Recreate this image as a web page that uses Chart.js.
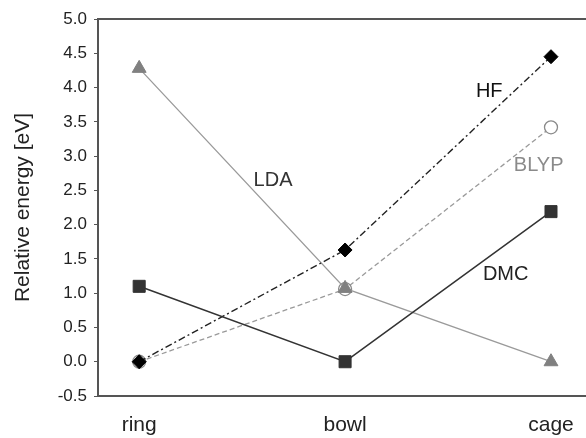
<!DOCTYPE html>
<html>
<head>
<meta charset="utf-8">
<script src="https://cdn.jsdelivr.net/npm/chart.js@4.4.0/dist/chart.umd.min.js"></script>
<style>
  html, body { margin: 0; padding: 0; background: #fff; }
  #wrap { width: 586px; height: 438px; overflow: hidden; }
</style>
</head>
<body>
<div id="wrap"><canvas id="chart" width="586" height="438"></canvas></div>
<script>
// structures along the x axis
const categories = ["ring", "bowl", "cage"];
const yTicks = [-0.5, 0.0, 0.5, 1.0, 1.5, 2.0, 2.5, 3.0, 3.5, 4.0, 4.5, 5.0];

// relative energies [eV], one value per category
const hfValues = [0.0, 1.63, 4.45];
const blypValues = [0.0, 1.06, 3.42];
const ldaValues = [4.28, 1.07, 0.0];
const dmcValues = [1.1, 0.0, 2.19];

const toPoints = (vals) => vals.map((v, i) => ({ x: i, y: v }));

const FONT = '"Liberation Sans", Arial, sans-serif';

// line labels drawn inside the plot, placed in data units
const lineLabels = [
    { text: "LDA", x: 0.65, y: 2.65, color: "#333" },
    { text: "HF", x: 1.70, y: 3.94, color: "#111" },
    { text: "BLYP", x: 1.94, y: 2.86, color: "#8a8a8a" },
    { text: "DMC", x: 1.78, y: 1.28, color: "#222" },
];

const labelPlugin = {
    id: 'lineLabels',
    afterDatasetsDraw(chart) {
        const { ctx, scales: { x, y }, chartArea } = chart;
        ctx.save();
        ctx.font = '20px ' + FONT;
        ctx.textAlign = 'center';
        ctx.textBaseline = 'middle';
        lineLabels.forEach((l) => {
            ctx.fillStyle = l.color;
            ctx.fillText(l.text, x.getPixelForValue(l.x), y.getPixelForValue(l.y));
        });
        // top frame line
        ctx.strokeStyle = '#555';
        ctx.lineWidth = 2;
        ctx.beginPath();
        ctx.moveTo(chartArea.left, chartArea.top);
        ctx.lineTo(chartArea.right, chartArea.top);
        ctx.stroke();
        ctx.restore();
    }
};

new Chart(document.getElementById('chart').getContext('2d'), {
    type: 'line',
    data: {
        datasets: [
            {
                label: 'BLYP',
                data: toPoints(blypValues),
                borderColor: '#9a9a9a',
                borderWidth: 1.3,
                borderDash: [5, 3],
                pointStyle: 'circle',
                pointRadius: 6.5,
                pointBackgroundColor: '#fff',
                pointBorderColor: '#8a8a8a',
                pointBorderWidth: 1.3,
                order: 4,
            },
            {
                label: 'LDA',
                data: toPoints(ldaValues),
                borderColor: '#9a9a9a',
                borderWidth: 1.3,
                pointStyle: 'triangle',
                pointRadius: 8,
                pointBackgroundColor: '#808080',
                pointBorderColor: '#808080',
                pointBorderWidth: 1,
                order: 3,
            },
            {
                label: 'HF',
                data: toPoints(hfValues),
                borderColor: '#222',
                borderWidth: 1.4,
                borderDash: [7, 3, 2, 3],
                pointStyle: 'rectRot',
                pointRadius: 7,
                pointBackgroundColor: '#000',
                pointBorderColor: '#000',
                pointBorderWidth: 1,
                order: 2,
            },
            {
                label: 'DMC',
                data: toPoints(dmcValues),
                borderColor: '#333',
                borderWidth: 1.5,
                pointStyle: 'rect',
                pointRadius: 8.5,
                pointBackgroundColor: '#333',
                pointBorderColor: '#333',
                pointBorderWidth: 1,
                order: 1,
            },
        ]
    },
    options: {
        responsive: false,
        animation: false,
        devicePixelRatio: 1,
        layout: { autoPadding: false, padding: { top: 19, right: 0, left: 0, bottom: 0 } },
        plugins: {
            legend: { display: false },
            tooltip: { enabled: false },
        },
        elements: { line: { tension: 0, fill: false } },
        scales: {
            x: {
                type: 'linear',
                min: -0.2,
                max: 2.17,
                afterBuildTicks(scale) {
                    scale.ticks = categories.map((c, i) => ({ value: i }));
                },
                afterFit(scale) { scale.height = 42; },
                grid: { display: false },
                border: { display: true, color: '#555', width: 2 },
                ticks: {
                    color: '#222',
                    padding: 9,
                    font: { size: 21, family: FONT },
                    callback: (v) => categories[v],
                },
            },
            y: {
                min: -0.5,
                max: 5.0,
                afterBuildTicks(scale) {
                    scale.ticks = yTicks.map((v) => ({ value: v }));
                },
                afterFit(scale) { scale.width = 98; },
                grid: { drawOnChartArea: false, drawTicks: true, tickLength: 4, color: '#555' },
                border: { display: true, color: '#555', width: 2 },
                title: {
                    display: true,
                    text: 'Relative energy [eV]',
                    color: '#222',
                    padding: { top: 11 },
                    font: { size: 21, family: FONT },
                },
                ticks: {
                    color: '#222',
                    padding: 7,
                    font: { size: 17, family: FONT },
                    callback: (v) => v.toFixed(1),
                },
            },
        },
    },
    plugins: [labelPlugin],
});
</script>
</body>
</html>
